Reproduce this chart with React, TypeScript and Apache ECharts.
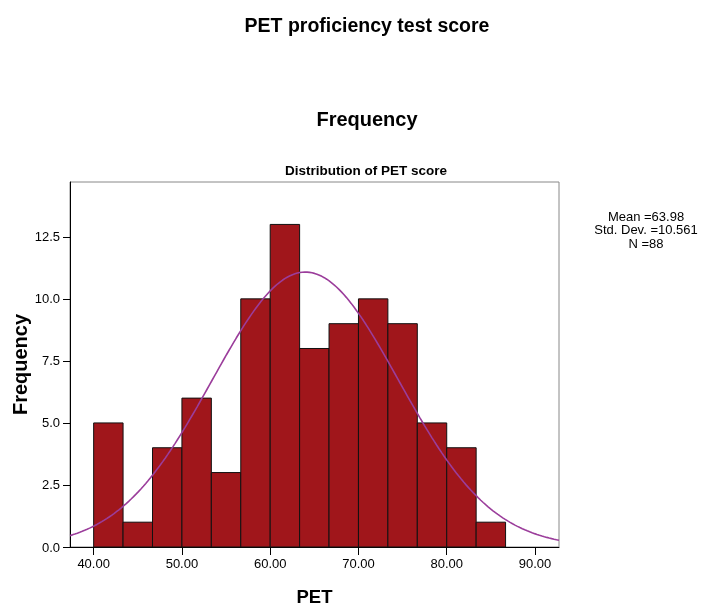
import React, { useEffect, useRef } from "react";
import * as echarts from "echarts";

const binStarts = [40, 43.333, 46.667, 50, 53.333, 56.667, 60, 63.333, 66.667, 70, 73.333, 76.667, 80, 83.333];
const binWidth = 3.3333;
const counts = [5, 1, 4, 6, 3, 10, 13, 8, 9, 10, 9, 5, 4, 1];
const xTicks = [40, 50, 60, 70, 80, 90];
const yTicks = [0, 2.5, 5, 7.5, 10, 12.5];
const MEAN = 63.98;
const SD = 10.561;
const N = 88;
const X_MIN = 37.32;
const X_MAX = 92.72;
const statLines = ["Mean =63.98", "Std. Dev. =10.561", "N =88"];

const FONT = "'Liberation Sans', Arial, sans-serif";

export default function App() {
  const ref = useRef<HTMLDivElement>(null);
  useEffect(() => {
    if (!ref.current) return;
    const chart = echarts.init(ref.current, null, { renderer: "svg" });
    const barData = binStarts.map((s, i) => [s, s + binWidth, counts[i]]);
    const curve: number[][] = [];
    const steps = 200;
    for (let i = 0; i <= steps; i++) {
      const x = X_MIN + ((X_MAX - X_MIN) * i) / steps;
      const z = (x - MEAN) / SD;
      const y = (N * binWidth) / (SD * Math.sqrt(2 * Math.PI)) * Math.exp(-0.5 * z * z);
      curve.push([x, y]);
    }
    chart.setOption({
      animation: false,
      textStyle: { fontFamily: FONT },
      title: [
        { text: "PET proficiency test score", left: 367, top: 15, padding: 0, textAlign: "center", textStyle: { fontSize: 19.5, fontWeight: "bold", color: "#000", fontFamily: FONT } },
        { text: "Frequency", left: 367, top: 109, padding: 0, textAlign: "center", textStyle: { fontSize: 20, fontWeight: "bold", color: "#000", fontFamily: FONT } },
        { text: "Distribution of PET score", left: 366, top: 163, padding: 0, textAlign: "center", textStyle: { fontSize: 13.5, fontWeight: "bold", color: "#000", fontFamily: FONT } },
      ],
      graphic: statLines.map((t, i) => ({
        type: "text",
        x: 646,
        y: 216 + i * 13.5,
        style: {
          text: t,
          align: "center",
          verticalAlign: "middle",
          fontSize: 13,
          fill: "#000",
          fontFamily: FONT,
        },
      })),
      grid: { left: 70, top: 182, right: 142, bottom: 59, outerBoundsMode: "none", containLabel: false, show: true, borderColor: "#888", borderWidth: 1, backgroundColor: "#fff" },
      xAxis: {
        type: "value",
        min: X_MIN,
        max: X_MAX,
        name: "PET",
        nameLocation: "middle",
        nameGap: 40,
        nameMoveOverlap: false,
        nameTextStyle: { fontSize: 18.5, fontWeight: "bold", color: "#000", fontFamily: FONT },
        axisLine: { show: true, lineStyle: { color: "#000", width: 1 } },
        axisTick: { show: true, length: 8, lineStyle: { color: "#000" }, customValues: xTicks },
        axisLabel: { color: "#000", fontSize: 13, margin: 10, customValues: xTicks, formatter: (v: number) => v.toFixed(2) },
        splitLine: { show: false },
      },
      yAxis: {
        type: "value",
        min: 0,
        max: 14.71,
        name: "Frequency",
        nameLocation: "middle",
        nameGap: 40,
        nameMoveOverlap: false,
        nameTextStyle: { fontSize: 20, fontWeight: "bold", color: "#000", fontFamily: FONT },
        axisLine: { show: true, lineStyle: { color: "#000", width: 1 } },
        axisTick: { show: true, length: 7, lineStyle: { color: "#000" }, customValues: yTicks },
        axisLabel: { color: "#000", fontSize: 13, margin: 10, customValues: yTicks, formatter: (v: number) => v.toFixed(1) },
        splitLine: { show: false },
      },
      series: [
        {
          type: "custom",
          data: barData,
          encode: { x: [0, 1], y: 2 },
          renderItem: (params: any, api: any) => {
            const p1 = api.coord([api.value(0), api.value(2)]);
            const p2 = api.coord([api.value(1), 0]);
            return {
              type: "rect",
              shape: { x: p1[0], y: p1[1], width: p2[0] - p1[0], height: p2[1] - p1[1] },
              style: { fill: "#a0161b", stroke: "#111", lineWidth: 1 },
            };
          },
          z: 2,
        },
        {
          type: "line",
          data: curve,
          showSymbol: false,
          smooth: false,
          lineStyle: { color: "#9b3d9b", width: 1.6 },
          z: 3,
        },
      ],
    });
    return () => chart.dispose();
  }, []);
  return <div ref={ref} style={{ position: "fixed", left: 0, top: 0, width: 701, height: 606 }} />;
}
